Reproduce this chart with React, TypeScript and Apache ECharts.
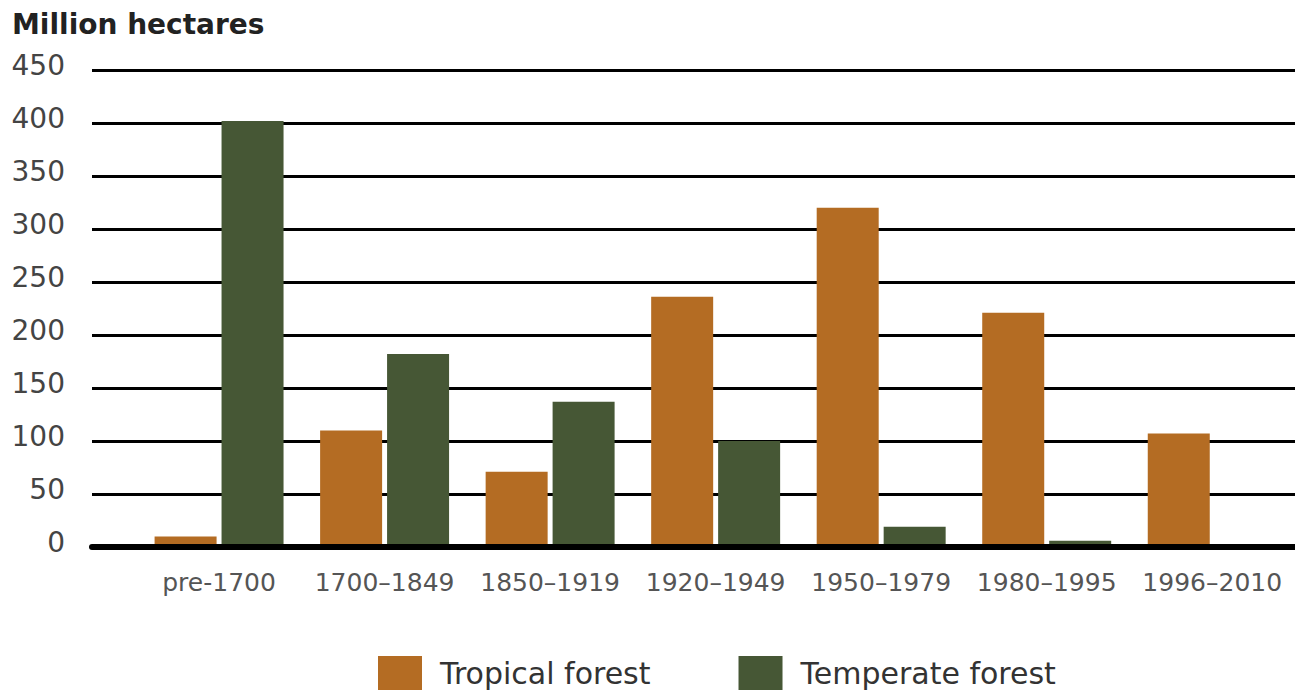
import React, { useEffect, useRef } from "react";
import * as echarts from "echarts";

const categories = ["pre-1700", "1700–1849", "1850–1919", "1920–1949", "1950–1979", "1980–1995", "1996–2010"];
const tropical = [10, 110, 71, 236, 320, 221, 107];
const temperate = [402, 182, 137, 100, 19, 6, 0];
const yTicks = { min: 0, max: 450, interval: 50 };

const FONT = "'DejaVu Sans', Verdana, sans-serif";

export default function App() {
  const ref = useRef<HTMLDivElement>(null);
  useEffect(() => {
    if (!ref.current) return;
    const chart = echarts.init(ref.current, undefined, { renderer: "svg" });
    const top = 70;
    const bottom = 143;
    chart.setOption({
      animation: false,
      backgroundColor: "#ffffff",
      title: {
        text: "Million hectares",
        left: 7,
        top: 5,
        textStyle: { fontFamily: FONT, fontSize: 28, fontWeight: "bold", color: "#222222" },
      },
      legend: {
        left: 373,
        top: 651,
        itemWidth: 44,
        itemHeight: 34,
        itemGap: 88,
        icon: "rect",
        textStyle: { fontFamily: FONT, fontSize: 30, color: "#333333", padding: [0, 0, 0, 13] },
        data: ["Tropical forest", "Temperate forest"],
      },
      grid: [
        { left: 92, right: 0, top, bottom },
        { left: 136.3, right: -12, top, bottom },
      ],
      xAxis: [
        {
          type: "value",
          gridIndex: 0,
          min: 0,
          max: 1,
          z: 10,
          axisLine: { show: true, onZero: false, lineStyle: { color: "#000000", width: 6 } },
          axisTick: { show: false },
          axisLabel: { show: false },
          splitLine: { show: false },
        },
        {
          type: "category",
          gridIndex: 1,
          data: categories,
          axisLine: { show: false },
          axisTick: { show: false },
          axisLabel: { fontFamily: FONT, fontSize: 25, color: "#555555", margin: 23, interval: 0 },
        },
      ],
      yAxis: [
        {
          type: "value",
          gridIndex: 0,
          min: yTicks.min,
          max: yTicks.max,
          interval: yTicks.interval,
          axisLine: { show: false },
          axisTick: { show: false },
          axisLabel: {
            fontFamily: FONT,
            fontSize: 28,
            color: "#444444",
            margin: 27,
            verticalAlign: "bottom",
            lineHeight: 9,
          },
          splitLine: { show: true, lineStyle: { color: "#000000", width: 3 } },
        },
        {
          type: "value",
          gridIndex: 1,
          min: yTicks.min,
          max: yTicks.max,
          interval: yTicks.interval,
          show: false,
          splitLine: { show: false },
        },
      ],
      series: [
        {
          name: "Tropical forest",
          type: "bar",
          xAxisIndex: 1,
          yAxisIndex: 1,
          data: tropical,
          barWidth: 62,
          barGap: "8%",
          itemStyle: { color: "#b46c23" },
        },
        {
          name: "Temperate forest",
          type: "bar",
          xAxisIndex: 1,
          yAxisIndex: 1,
          data: temperate,
          barWidth: 62,
          barGap: "8%",
          itemStyle: { color: "#465735" },
        },
      ],
    });
    return () => chart.dispose();
  }, []);
  return <div ref={ref} style={{ position: "absolute", left: 0, top: 0, width: 1295, height: 690 }} />;
}
